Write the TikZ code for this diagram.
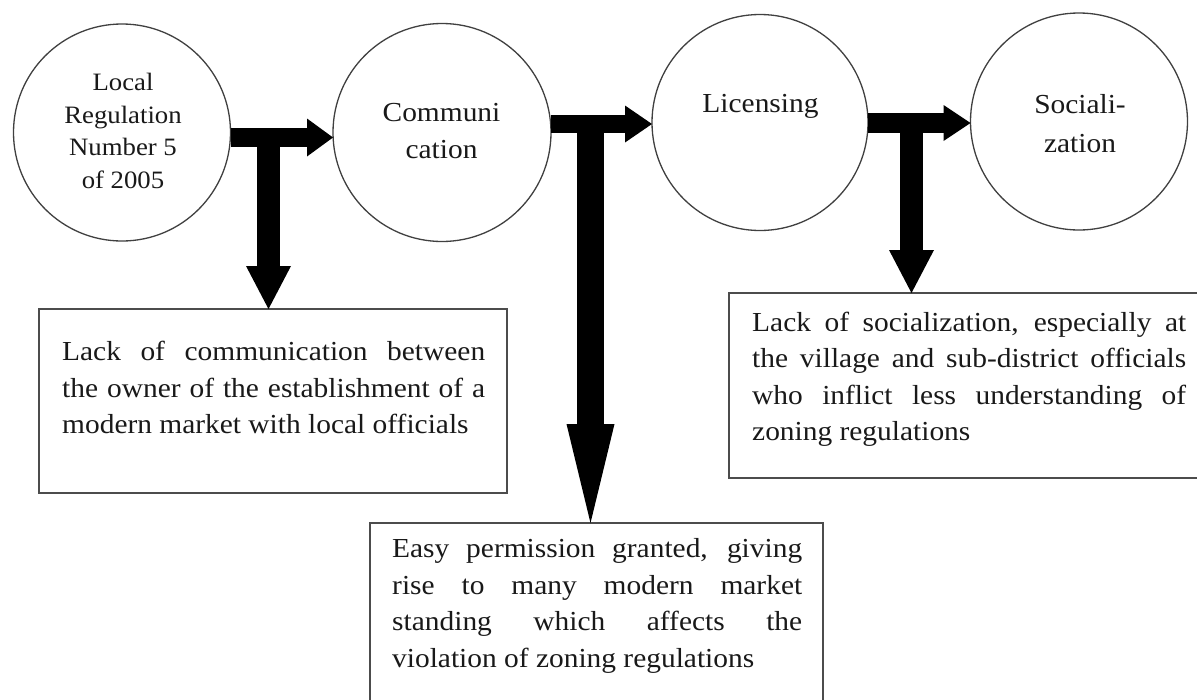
\documentclass[tikz,border=0pt]{standalone}
\usepackage{fontspec}
\setmainfont{Liberation Serif}[FakeStretch=1.07]
\usetikzlibrary{arrows.meta}
\tolerance=10000 \hbadness=10000 \hyphenpenalty=10000 \exhyphenpenalty=10000
\begin{document}
\begin{tikzpicture}[x=1pt,y=-1pt,
  circ/.style={circle,draw=black!75,line width=1.3pt,inner sep=0pt,outer sep=0pt,minimum size=#1},
  box/.style={rectangle,draw=black!70,line width=1.7pt,inner sep=0pt,outer sep=0pt,anchor=north west},
  ctext/.style={align=center,inner sep=0pt,anchor=north,text=black!90},
  btext/.style={text width=#1,align=justify,inner sep=0pt,anchor=north west,text=black!90,font=\fontsize{27.5}{36.5}\selectfont},
  bar/.style={draw=black,line width=#1}
]
\useasboundingbox (0,0) rectangle (1197,699);
\clip (0,0) rectangle (1197,699);
\fill[white] (0,0) rectangle (1197,699);

% circles
\node[circ=217pt] (c1) at (122,132.5) {};
\node[circ=218pt] (c2) at (442,132.5) {};
\node[circ=216pt] (c3) at (760,122.5) {};
\node[circ=217pt] (c4) at (1079,121.5) {};

\node[ctext,font=\fontsize{25}{32.7}\selectfont] (t1) at (123,72.9) {Local\\Regulation\\Number 5\\of 2005};
\node[ctext,font=\fontsize{27.5}{36.7}\selectfont] (t2) at (441.5,102.9) {Communi\\cation};
\node[ctext,font=\fontsize{27.5}{36}\selectfont] (t3) at (760.5,93.9) {Licensing};
\node[ctext,font=\fontsize{27.5}{38.4}\selectfont] (t4) at (1080,94.5) {Sociali-\\zation};

% boxes
\node[box,minimum width=468pt,minimum height=184pt] (b1) at (39,309) {};
\node[box,minimum width=490pt,minimum height=185pt] (b2) at (729,293) {};
\node[box,minimum width=453pt,minimum height=200pt] (b3) at (370,523) {};

\node[btext=423pt] (bt1) at (62,341.2) {Lack of communication between\linebreak the owner of the establishment of a\linebreak modern market with local officials};
\node[btext=434pt] (bt2) at (752,311.9) {Lack of socialization, especially at\linebreak the village and sub-district officials\linebreak who inflict less understanding of\linebreak zoning regulations};
\node[btext=410pt] (bt3) at (392,538.5) {Easy permission granted, giving\linebreak rise to many modern market\linebreak standing which affects the\linebreak violation of zoning regulations};

% horizontal arrows
\draw[bar=19pt,-{Triangle[length=26pt,width=38pt,line width=0pt]}] (c1.east |- 0,137.5) -- (c2.west |- 0,137.5);
\draw[bar=18pt,-{Triangle[length=27pt,width=37pt,line width=0pt]}] (c2.east |- 0,124) -- (c3.west |- 0,124);
\draw[bar=20pt,-{Triangle[length=27pt,width=36pt,line width=0pt]}] (c3.east |- 0,123) -- (c4.west |- 0,123);

% vertical stems
\coordinate (jA) at (268.5,128);
\coordinate (jB) at (590.5,115);
\coordinate (jC) at (911.5,113);
\draw[bar=23pt,-{Triangle[length=43pt,width=45pt,line width=0pt]}] (jA) -- (jA |- b1.north);
\draw[bar=27pt,-{Triangle[length=99pt,width=48pt,line width=0pt]}] (jB) -- (jB |- b3.north);
\draw[bar=23pt,-{Triangle[length=43pt,width=45pt,line width=0pt]}] (jC) -- (jC |- b2.north);
\end{tikzpicture}
\end{document}
